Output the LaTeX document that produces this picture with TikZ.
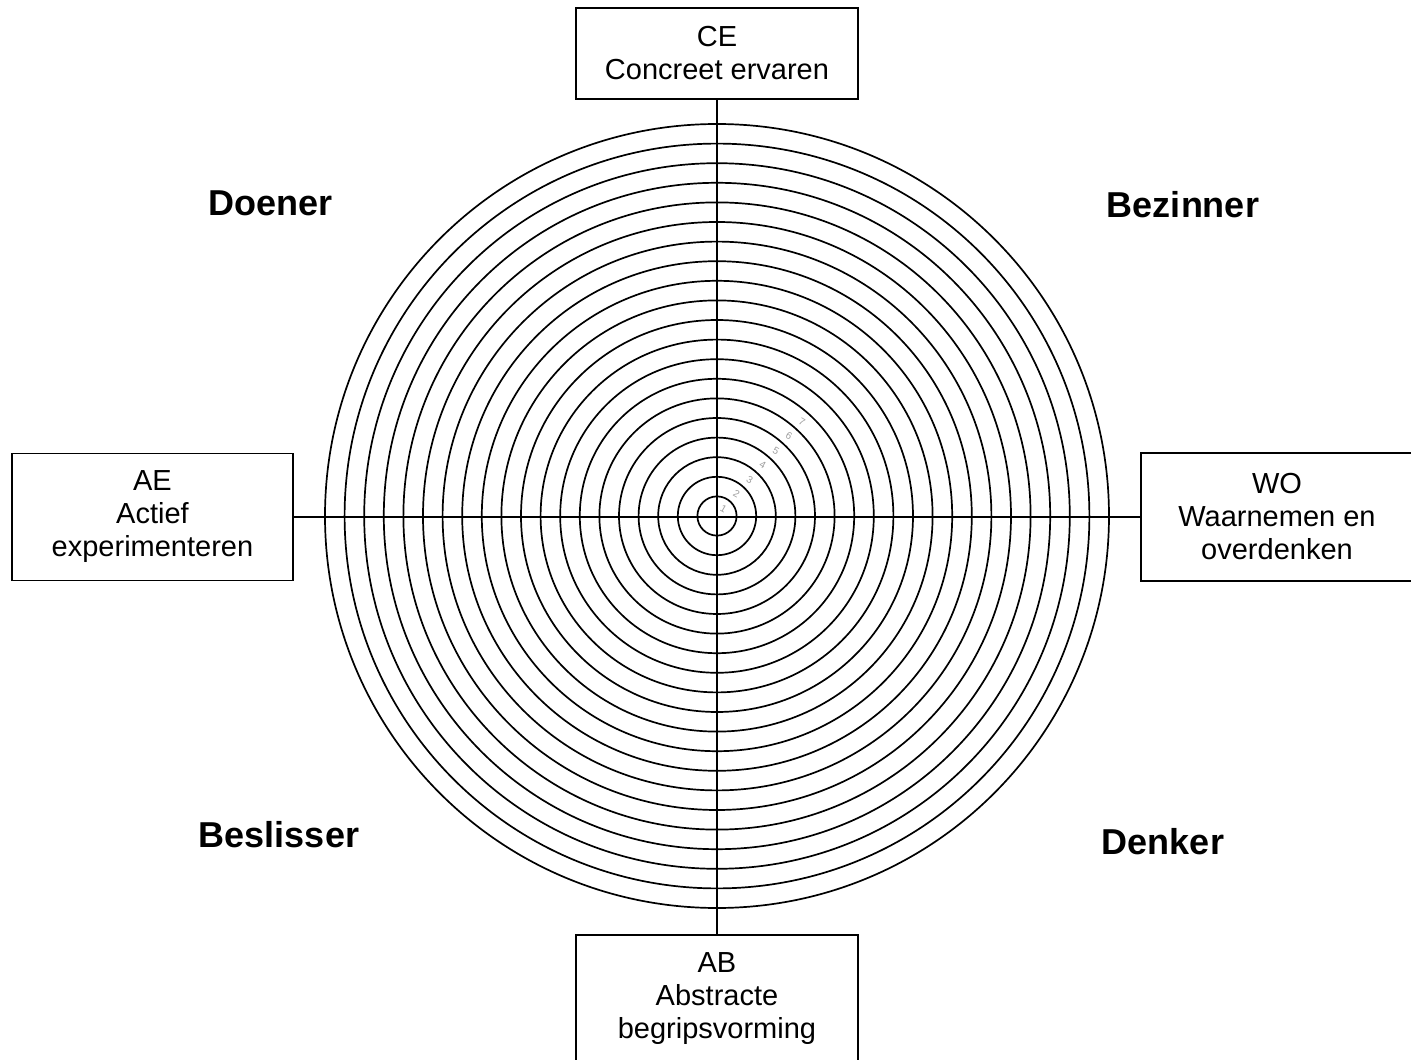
\documentclass[tikz,border=0pt]{standalone}
\usepackage{fontspec}
\setmainfont{Liberation Sans}
\usepackage{tikz}
\usetikzlibrary{positioning}

\begin{document}
\begin{tikzpicture}[x=1pt, y=1pt,
  box/.style = {draw, line width=1.5pt, align=center, inner sep=0pt,
                font=\fontsize{29}{33}\selectfont},
  quad/.style = {font=\fontsize{36}{40}\selectfont\bfseries},
  ring/.style = {line width=1.7pt},
  axis/.style = {line width=1.7pt},
  num/.style = {text=gray!75, font=\fontsize{10}{10}\selectfont, inner sep=0pt, rotate=-30}]
\useasboundingbox[fill=white] (-717,-544) rectangle (694,516);
\coordinate (c) at (0,0);
% rings
\foreach \r in {1,...,20} {
  \pgfmathsetmacro\rad{19.6*\r}
  \draw[ring] (c) circle[radius=\rad pt];
}
\foreach \k in {1,...,7} {
  \pgfmathsetmacro\rad{19.6*\k-10}
  \node[num] (n\k) at (48:\rad pt) {\k};
}
% the four poles
\node[box, minimum width=282pt, minimum height=91pt] (ce) at (0,462.5) {CE\\Concreet ervaren};
\node[box, minimum width=282pt, minimum height=128pt] (ab) at (0,-483) {AB\\Abstracte\\begripsvorming};
\node[box, minimum width=281pt, minimum height=127pt] (ae) at (-564.5,-1) {AE\\Actief\\experimenteren};
\node[box, minimum width=272pt, minimum height=128pt] (wo) at (560,-1) {WO\\Waarnemen en\\overdenken};
\draw[axis] (ce.south) -- (ab.north);
\draw[axis] (ae.east) -- (wo.west);
% quadrants
\node[quad] (doener) at (-446,313) {Doener};
\node[quad] (bezinner) at (466,311) {Bezinner};
\node[quad] (beslisser) at (-438,-319) {Beslisser};
\node[quad] (denker) at (446,-326) {Denker};
\end{tikzpicture}
\end{document}
